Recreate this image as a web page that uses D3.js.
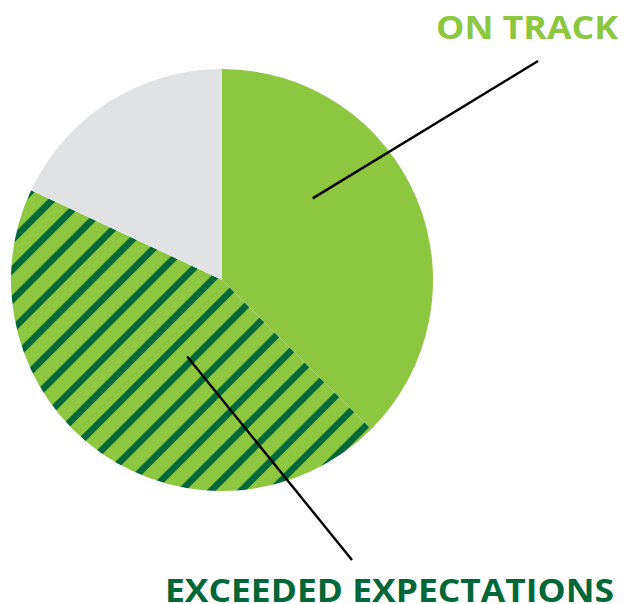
<!DOCTYPE html>
<html>
<head>
<meta charset="utf-8">
<script src="https://cdn.jsdelivr.net/npm/d3@7"></script>
<style>
  body { margin: 0; background: #fff; }
  .label { font-family: "Open Sans", sans-serif; font-weight: 700; }
</style>
</head>
<body>
<svg id="chart"></svg>
<script>
// share of each category
const categories = ["On track", "Exceeded expectations", "Other"];
const values = [37.5, 44.5, 18];
const labels = ["ON TRACK", "EXCEEDED EXPECTATIONS", null];

const width = 629, height = 604;
const cx = 222, cy = 280, radius = 211;

const fills = {
  "On track": "#8dc63f",
  "Exceeded expectations": "url(#stripes)",
  "Other": "#e1e2e4"
};

const svg = d3.select("#chart")
    .attr("width", width)
    .attr("height", height);

// diagonal stripe pattern for the hatched slice
const defs = svg.append("defs");
const pat = defs.append("pattern")
    .attr("id", "stripes")
    .attr("patternUnits", "userSpaceOnUse")
    .attr("width", 21.2)
    .attr("height", 21.2)
    .attr("patternTransform", "rotate(45)");
pat.append("rect")
    .attr("width", 21.2).attr("height", 21.2)
    .attr("fill", "#8dc63f");
pat.append("rect")
    .attr("x", 10.8).attr("width", 6.6).attr("height", 21.2)
    .attr("fill", "#006838");

const pie = d3.pie().sort(null).value(d => d.value);
const arc = d3.arc().innerRadius(0).outerRadius(radius);

const data = categories.map((c, i) => ({ name: c, value: values[i], label: labels[i] }));
const arcs = pie(data);

const g = svg.append("g")
    .attr("transform", `translate(${cx},${cy})`);

g.selectAll("path.slice")
  .data(arcs)
  .join("path")
    .attr("class", "slice")
    .attr("d", arc)
    .attr("fill", d => fills[d.data.name]);

// leader lines: start inside the slice (angle, radius), end near the label
const leaders = [
  { name: "On track", angle: 48, r: 122, end: [316, -219] },
  { name: "Exceeded expectations", angle: 204.5, r: 84, end: [130, 280] }
];

g.selectAll("line.leader")
  .data(leaders)
  .join("line")
    .attr("class", "leader")
    .attr("x1", d => d.r * Math.sin(d.angle * Math.PI / 180))
    .attr("y1", d => -d.r * Math.cos(d.angle * Math.PI / 180))
    .attr("x2", d => d.end[0])
    .attr("y2", d => d.end[1])
    .attr("stroke", "#000")
    .attr("stroke-width", 2.4);

// category labels
svg.append("text")
    .attr("class", "label")
    .attr("x", 436)
    .attr("y", 38.5)
    .attr("font-size", 31.5)
    .attr("fill", "#8dc63f")
    .attr("textLength", 182)
    .attr("lengthAdjust", "spacingAndGlyphs")
    .text(labels[0]);

svg.append("text")
    .attr("class", "label")
    .attr("x", 165)
    .attr("y", 601.5)
    .attr("font-size", 31.5)
    .attr("fill", "#006838")
    .attr("textLength", 449)
    .attr("lengthAdjust", "spacingAndGlyphs")
    .text(labels[1]);
</script>
</body>
</html>
